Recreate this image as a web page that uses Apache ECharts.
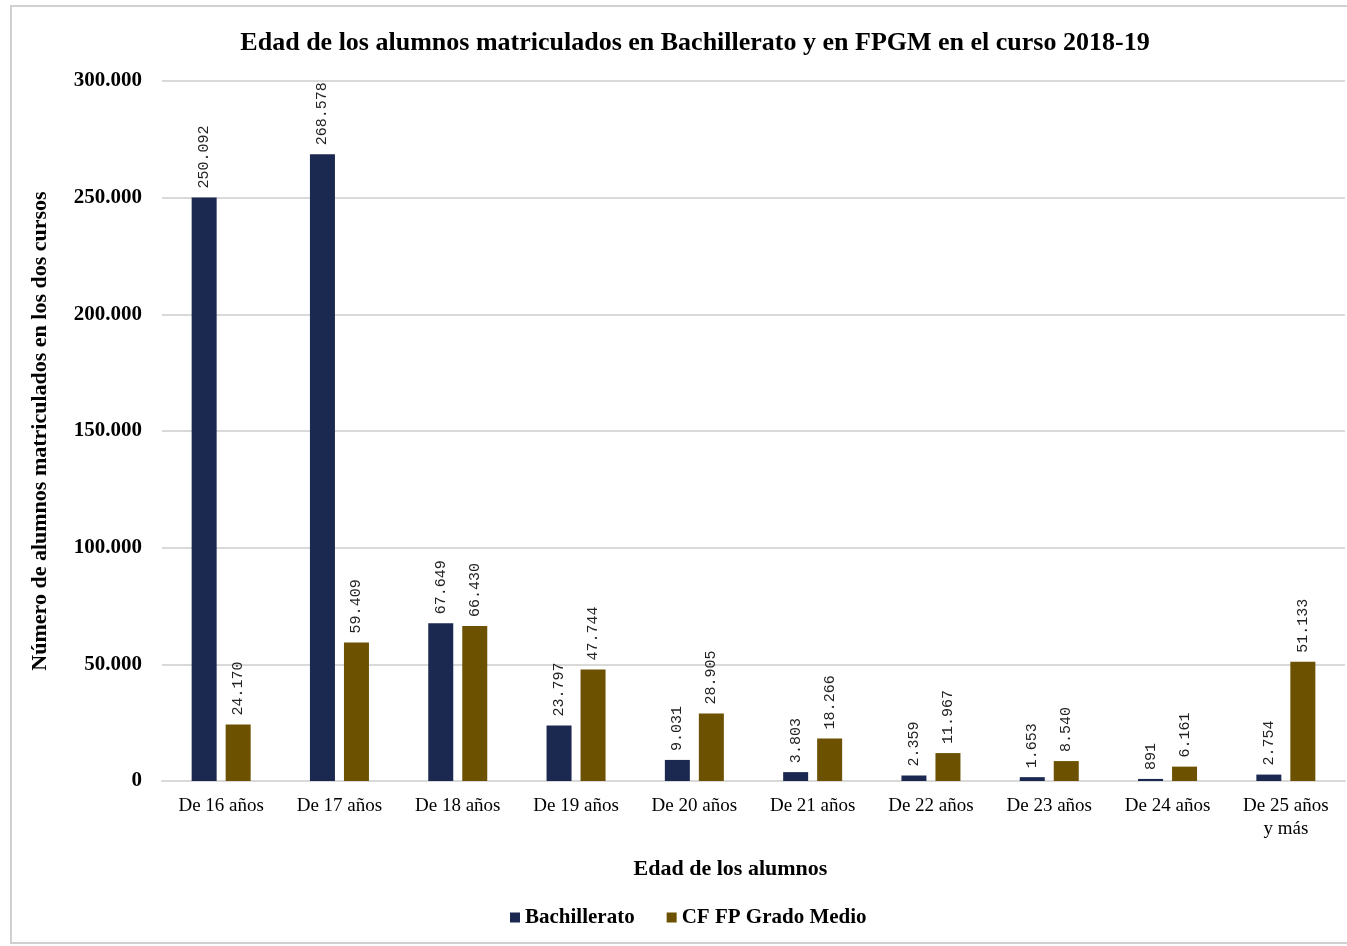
<!DOCTYPE html>
<html>
<head>
<meta charset="utf-8">
<script src="https://cdn.jsdelivr.net/npm/echarts@6/dist/echarts.min.js"></script>
<style>
html,body{margin:0;padding:0;background:#fff;}
#c{width:1347px;height:946px;}
</style>
</head>
<body>
<div id="c"></div>
<script>
const categories = ['De 16 años','De 17 años','De 18 años','De 19 años','De 20 años','De 21 años','De 22 años','De 23 años','De 24 años','De 25 años\ny más'];
const bachillerato = [250092, 268578, 67649, 23797, 9031, 3803, 2359, 1653, 891, 2754];
const cfGradoMedio = [24170, 59409, 66430, 47744, 28905, 18266, 11967, 8540, 6161, 51133];
const seriesNames = ['Bachillerato', 'CF FP Grado Medio'];
const yTicks = [0, 50000, 100000, 150000, 200000, 250000, 300000];

function fmt(v){ return String(Math.round(v)).replace(/\B(?=(\d{3})+(?!\d))/g, '.'); }

const chart = echarts.init(document.getElementById('c'), null, {renderer:'canvas'});
const serif = '"Liberation Serif","Times New Roman",serif';
const labelCfg = {
  show: true, position: 'top', rotate: 90, align: 'left', verticalAlign: 'middle',
  distance: 9, fontFamily: '"Liberation Mono","DejaVu Sans Mono",monospace', fontSize: 15, color: '#222',
  formatter: p => fmt(p.value)
};
chart.setOption({
  animation: false,
  backgroundColor: '#fff',
  title: {
    text: 'Edad de los alumnos matriculados en Bachillerato y en FPGM en el curso 2018-19',
    left: 690, textAlign: 'center', top: 25,
    textStyle: {fontFamily: serif, fontWeight: 'bold', fontSize: 26, color: '#000'}
  },
  graphic: [{
    type: 'rect', shape: {x: 11, y: 6, width: 1400, height: 937},
    style: {fill: 'none', stroke: '#d0d0d0', lineWidth: 2}, silent: true, z: -1
  }],
  legend: {
    data: seriesNames, left: 505, top: 902, itemWidth: 10, itemHeight: 10, itemGap: 32,
    icon: 'rect',
    textStyle: {fontFamily: serif, fontWeight: 'bold', fontSize: 21, color: '#000'}
  },
  grid: {left: 162, right: 2, top: 81, bottom: 165, containLabel: false},
  xAxis: {
    type: 'category', data: categories,
    name: 'Edad de los alumnos', nameLocation: 'middle', nameGap: 77,
    nameTextStyle: {fontFamily: serif, fontWeight: 'bold', fontSize: 22, color: '#000', padding: [0, 46, 0, 0]},
    axisLine: {lineStyle: {color: '#d9d9d9', width: 2}},
    axisTick: {show: false},
    axisLabel: {fontFamily: serif, fontSize: 19, color: '#000', margin: 14, lineHeight: 23}
  },
  yAxis: {
    type: 'value', min: 0, max: 300000, interval: 50000,
    name: 'Número de alumnos matriculados en los dos cursos', nameLocation: 'middle', nameGap: 111,
    nameTextStyle: {fontFamily: serif, fontWeight: 'bold', fontSize: 22, color: '#000'},
    axisLine: {show: false}, axisTick: {show: false},
    splitLine: {lineStyle: {color: '#d9d9d9', width: 2}},
    axisLabel: {fontFamily: serif, fontWeight: 'bold', fontSize: 21, color: '#000', margin: 20,
      formatter: v => yTicks.includes(v) ? fmt(v) : ''}
  },
  series: [
    {name: seriesNames[0], type: 'bar', data: bachillerato, barWidth: 25, barGap: '36%',
     itemStyle: {color: '#1b2850'}, label: labelCfg},
    {name: seriesNames[1], type: 'bar', data: cfGradoMedio, barWidth: 25,
     itemStyle: {color: '#6b5100'}, label: labelCfg}
  ]
});
</script>
</body>
</html>
